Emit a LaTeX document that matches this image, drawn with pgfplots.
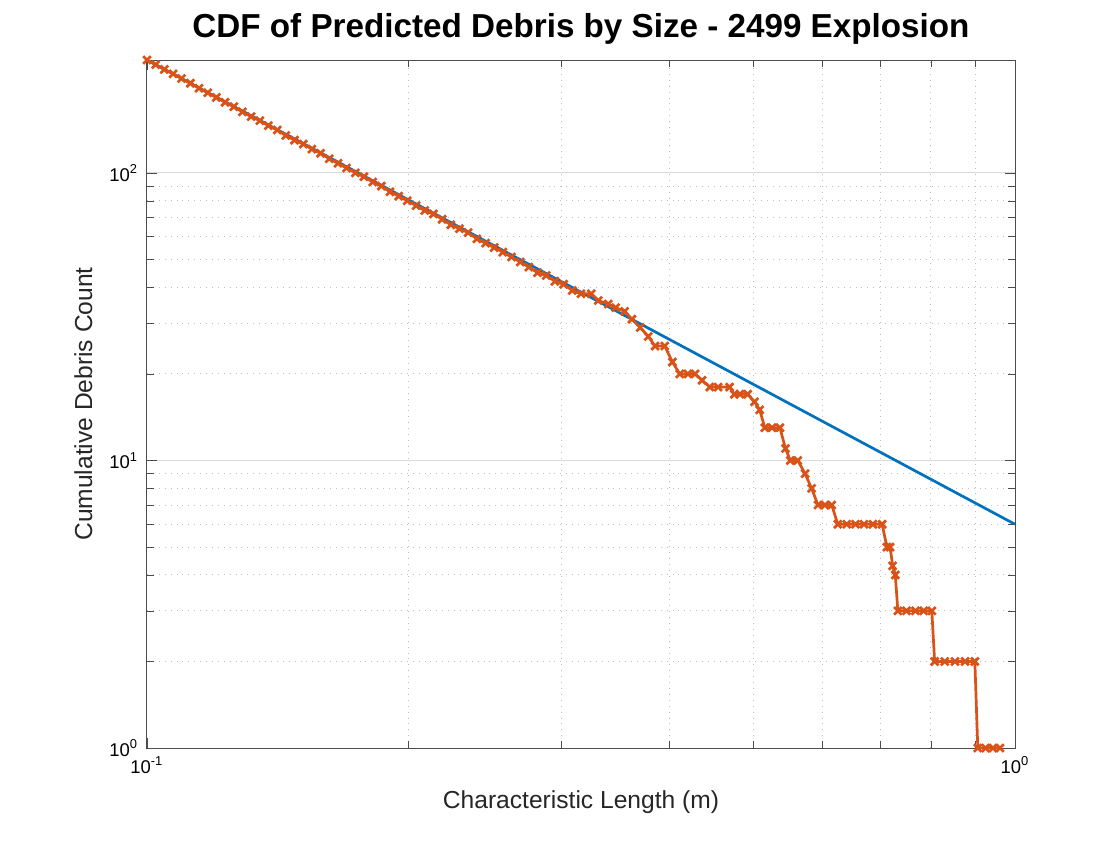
\documentclass[border=0pt]{standalone}
\usepackage{pgfplots}
\pgfplotsset{compat=1.18}
\usepackage{fontspec}
\setmainfont{Liberation Sans}
\definecolor{mblue}{RGB}{0,114,189}
\definecolor{morange}{RGB}{217,83,25}
\begin{document}
\begin{tikzpicture}
\useasboundingbox (-2.1cm,-1.314cm) rectangle (13.9cm,10.686cm);
\begin{axis}[
  scale only axis, width=12.4cm, height=9.829cm,
  xmode=log, ymode=log, xmin=0.1, xmax=1, ymin=1, ymax=247,
  axis line style={black!70}, tick style={black!70},
  grid=both, major grid style={black!15}, minor grid style={black!25,dotted},
  tick label style={font=\fontsize{7.5}{9}\selectfont},
  xtick={0.1,1}, xticklabels={10\textsuperscript{-1},10\textsuperscript{0}},
  ytick={1,10,100}, yticklabels={10\textsuperscript{0},10\textsuperscript{1},10\textsuperscript{2}},
  xlabel={Characteristic Length (m)}, ylabel={Cumulative Debris Count},
  label style={font=\fontsize{10}{12}\selectfont, text=black!85},
  title={\textbf{CDF of Predicted Debris by Size - 2499 Explosion}},
  title style={font=\fontsize{13.5}{15}\selectfont, yshift=-3pt},
]
\addplot[mblue, line width=1.1pt] coordinates {(0.1,247) (1,6)};
\addplot[morange, line width=1.1pt, mark=x, mark size=2.2pt] coordinates {
(0.1,247)(0.1023,238)(0.1047,229)(0.1072,221)(0.1096,213)(0.1122,205)(0.1148,197)(0.1175,190)(0.1202,183)(0.1230,176)(0.1259,170)(0.1288,163)(0.1318,157)(0.1349,152)(0.1380,146)(0.1413,141)(0.1445,135)(0.1479,130)(0.1514,126)(0.1549,121)(0.1585,117)(0.1622,112)(0.1660,108)(0.1698,104)(0.1738,100)(0.1778,97)(0.1820,93)(0.1862,90)(0.1905,86)(0.1950,83)(0.1995,80)(0.2042,77)(0.2089,74)(0.2138,72)(0.2188,69)(0.2239,66)(0.2291,64)(0.2344,62)(0.2399,59)(0.2455,57)(0.2512,55)(0.2570,53)(0.2630,51)(0.2692,49)(0.2754,47)(0.2818,45)(0.2884,44)(0.2951,42)(0.3020,41)(0.3090,39)(0.3162,38)(0.3250,38)(0.3311,36)(0.3400,35)(0.3467,34)
(0.355,33)(0.362,31)(0.370,29)(0.378,27)(0.385,25)(0.395,25)(0.403,22)(0.411,20)(0.420,20)(0.428,20)(0.436,19)(0.445,18)(0.455,18)(0.469,18)(0.475,17)(0.482,17)(0.492,17)(0.501,16)(0.508,15)(0.515,13)(0.525,13)(0.536,13)(0.544,11)(0.551,10)(0.562,10)(0.573,9)(0.583,8)(0.593,7)(0.604,7)(0.615,7)(0.625,6)(0.640,6)(0.655,6)(0.670,6)(0.686,6)(0.703,6)(0.712,5)(0.718,5)(0.723,4.3)(0.728,4)(0.733,3)(0.750,3)(0.768,3)(0.785,3)(0.802,3)(0.808,2)(0.830,2)(0.853,2)(0.876,2)(0.899,2)(0.906,1)(0.925,1)(0.943,1)(0.961,1)};
\end{axis}
\end{tikzpicture}
\end{document}
